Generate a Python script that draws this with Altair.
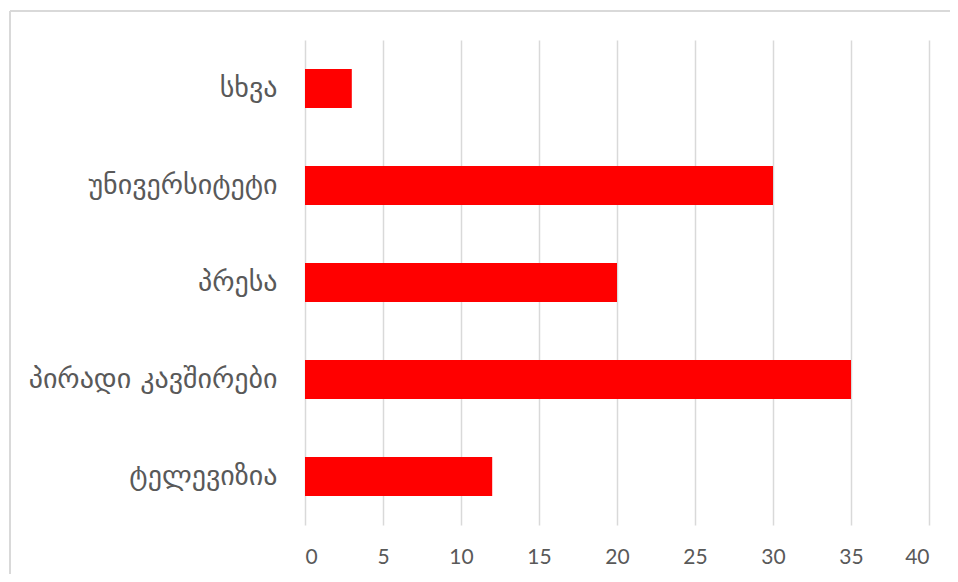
import altair as alt
import pandas as pd

categories = ["სხვა", "უნივერსიტეტი", "პრესა", "პირადი კავშირები", "ტელევიზია"]
values = [3, 30, 20, 35, 12]
ticks = [0, 5, 10, 15, 20, 25, 30, 35, 40]

df = pd.DataFrame({"category": categories, "value": values})

bars = alt.Chart(df).mark_bar(color="#ff0000").encode(
    x=alt.X("value:Q", scale=alt.Scale(domain=[0, 40], nice=False),
            axis=alt.Axis(values=ticks, title=None, grid=True, gridColor="#d9d9d9",
                          gridWidth=1.5, domain=False, ticks=False,
                          labelFont="Lato", labelFontSize=21, labelColor="#595959",
                          labelPadding=21)),
    y=alt.Y("category:N", sort=categories,
            scale=alt.Scale(paddingInner=0.6, paddingOuter=0.3),
            axis=alt.Axis(title=None, domain=False, ticks=False, grid=False,
                          labelFont="DejaVu Sans", labelFontSize=28, labelLimit=0,
                          labelColor="#595959", labelPadding=28)),
)

top_line = alt.Chart(df).mark_rule(color="#d9d9d9", strokeWidth=2, clip=False).encode(
    x=alt.value(-295), x2=alt.value(700), y=alt.value(-29)
)
left_line = alt.Chart(df).mark_rule(color="#d9d9d9", strokeWidth=2, clip=False).encode(
    x=alt.value(-295), y=alt.value(-29), y2=alt.value(600)
)

chart = alt.layer(bars, top_line, left_line).properties(
    width=624, height=485,
    padding={"left": 297, "top": 32, "right": 21, "bottom": 49},
    autosize=alt.AutoSizeParams(type="none"),
).configure_view(stroke=None)

chart.save("out.html", embed_options={"renderer": "svg", "actions": False})
